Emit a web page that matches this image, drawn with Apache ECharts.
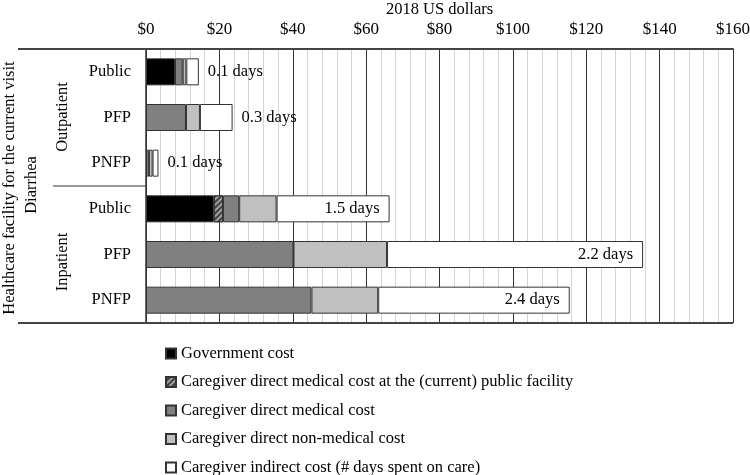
<!DOCTYPE html>
<html><head><meta charset="utf-8">
<script src="https://cdn.jsdelivr.net/npm/echarts@6/dist/echarts.min.js"></script>
<style>html,body{margin:0;padding:0;background:#fff}#c{width:750px;height:475px}</style>
</head><body><div id="c"></div>
<script>
const categories = ["Outpatient Public","Outpatient PFP","Outpatient PNFP","Inpatient Public","Inpatient PFP","Inpatient PNFP"];
const rowLabels = ["Public","PFP","PNFP","Public","PFP","PNFP"];
const govCost = [7.9, null, null, 18.5, null, null];
const publicFacilityCost = [null, null, null, 2.5, null, null];
const directMedical = [2.1, 10.9, 0.8, 4.4, 40.2, 45.1];
const directNonMedical = [1.0, 3.8, 1.0, 10.2, 25.5, 18.2];
const indirectCost = [3.4, 8.9, 1.6, 30.8, 69.8, 52.2];
const daysLabels = ["0.1 days","0.3 days","0.1 days","1.5 days","2.2 days","2.4 days"];
const xTicks = {min: 0, max: 160, interval: 20};
const seriesNames = ["Government cost","Caregiver direct medical cost at the (current) public facility","Caregiver direct medical cost","Caregiver direct non-medical cost","Caregiver indirect cost (# days spent on care)"];

const FONT = '"Liberation Serif","Times New Roman",serif';
const FS = 16.5;
const chart = echarts.init(document.getElementById('c'), null, {renderer:'canvas'});
const border = {borderColor:'#333', borderWidth:1};
function mk(name, data, style, extra) {
  return Object.assign({name, type:'bar', stack:'t', data, barWidth:27,
    itemStyle:Object.assign({}, border, style), emphasis:{disabled:true}}, extra||{});
}
const indirectData = indirectCost.map((v,i)=>({
  value:v,
  label: i<3 ? {show:true, position:'right', distance:9, formatter:daysLabels[i]}
             : {show:true, position:'insideRight', distance:10, formatter:daysLabels[i]}
}));
const option = {
  animation:false,
  textStyle:{fontFamily:FONT},
  grid:{left:146, right:17, top:49, bottom:152, containLabel:false, outerBoundsMode:'none'},
  xAxis:{type:'value', position:'top', min:xTicks.min, max:xTicks.max, interval:xTicks.interval,
    name:'2018 US dollars', nameLocation:'middle', nameGap:31, nameMoveOverlap:false,
    nameTextStyle:{fontFamily:FONT, fontSize:FS, color:'#000'},
    axisLine:{show:true, lineStyle:{color:'#444', width:2}},
    axisTick:{show:false},
    axisLabel:{formatter:v=>'$'+v, fontFamily:FONT, fontSize:17, color:'#000', margin:11},
    splitLine:{show:true, lineStyle:{color:'#333', width:1}},
    minorTick:{show:false, splitNumber:5},
    minorSplitLine:{show:true, lineStyle:{color:'#d4d4d4', width:1}}
  },
  yAxis:{type:'category', inverse:true, data:categories,
    axisLine:{show:true, lineStyle:{color:'#333', width:1.5}},
    axisTick:{show:false},
    axisLabel:{formatter:(v,i)=>rowLabels[i], fontFamily:FONT, fontSize:FS, color:'#000', margin:15}
  },
  legend:{orient:'vertical', left:165, top:345, height:140, padding:0, itemWidth:10, itemHeight:10, itemGap:11.5,
    icon:'rect', textStyle:{fontFamily:FONT, fontSize:FS, color:'#000'}, selectedMode:false},
  series:[
    mk(seriesNames[0], govCost, {color:'#000'}),
    mk(seriesNames[1], publicFacilityCost, {color:'#404040',
      decal:{symbol:'rect', dashArrayX:[1,0], dashArrayY:[2,2], rotation:-Math.PI/4, color:'#a0a0a0'}}),
    mk(seriesNames[2], directMedical, {color:'#808080'}),
    mk(seriesNames[3], directNonMedical, {color:'#c0c0c0'}),
    mk(seriesNames[4], indirectData, {color:'#fff'},
      {label:{show:true, fontFamily:FONT, fontSize:FS, color:'#000'}})
  ],
  graphic:[
    {type:'line', shape:{x1:18, y1:49, x2:146, y2:49}, style:{stroke:'#444', lineWidth:2}, z:10},
    {type:'line', shape:{x1:18, y1:323, x2:733, y2:323}, style:{stroke:'#444', lineWidth:2}, z:10},
    {type:'line', shape:{x1:53, y1:186, x2:146, y2:186}, style:{stroke:'#333', lineWidth:1}, z:10},
    {type:'text', x:10, y:188, rotation:Math.PI/2, style:{text:'Healthcare facility for the current visit', font:FS+'px '+FONT, fill:'#000', textAlign:'center', textVerticalAlign:'middle'}},
    {type:'text', x:32, y:185, rotation:Math.PI/2, style:{text:'Diarrhea', font:FS+'px '+FONT, fill:'#000', textAlign:'center', textVerticalAlign:'middle'}},
    {type:'text', x:63, y:117, rotation:Math.PI/2, style:{text:'Outpatient', font:FS+'px '+FONT, fill:'#000', textAlign:'center', textVerticalAlign:'middle'}},
    {type:'text', x:63, y:262, rotation:Math.PI/2, style:{text:'Inpatient', font:FS+'px '+FONT, fill:'#000', textAlign:'center', textVerticalAlign:'middle'}}
  ]
};
chart.setOption(option);
</script></body></html>
